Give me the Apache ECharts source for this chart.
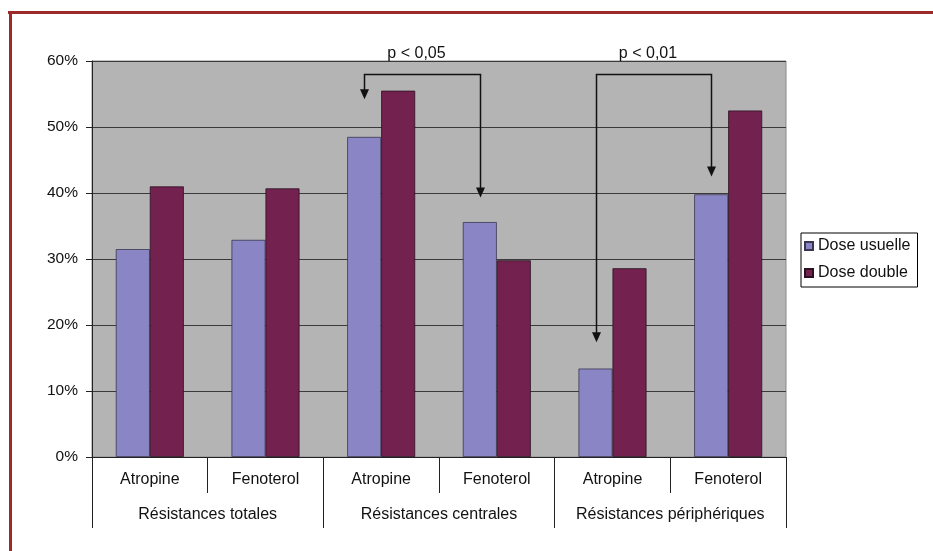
<!DOCTYPE html>
<html>
<head>
<meta charset="utf-8">
<script src="https://cdn.jsdelivr.net/npm/echarts@6/dist/echarts.min.js"></script>
<style>
  html, body { margin: 0; padding: 0; background: #ffffff; }
  #chart { width: 933px; height: 551px; }
</style>
</head>
<body>
<div id="chart"></div>
<script>
// Bronchodilator response by dose, per resistance measure
const categories = ['Atropine', 'Fenoterol', 'Atropine', 'Fenoterol', 'Atropine', 'Fenoterol'];
const groups = ['Résistances totales', 'Résistances centrales', 'Résistances périphériques'];
const seriesNames = ['Dose usuelle', 'Dose double'];
const doseUsuelle = [31.5, 32.9, 48.5, 35.6, 13.4, 39.8];
const doseDouble = [41.0, 40.7, 55.5, 29.8, 28.6, 52.5];

// Significance brackets: between the "Dose usuelle" bars of two categories
const significance = [
  { label: 'p < 0,05', from: 2, to: 3, level: 58, tipFrom: 54.2, tipTo: 39.3 },
  { label: 'p < 0,01', from: 4, to: 5, level: 58, tipFrom: 17.4, tipTo: 42.5 }
];

const FONT = '"Liberation Sans", Arial, Helvetica, sans-serif';
const TEXT = '#111111';
const BAR_W = 34;
const COLORS = ['#8a86c5', '#73214f'];

const chart = echarts.init(document.getElementById('chart'), null, { renderer: 'canvas' });

const option = {
  backgroundColor: '#ffffff',
  animation: false,
  textStyle: { fontFamily: FONT, color: TEXT },
  grid: {
    left: 92, top: 61, width: 694, height: 396,
    show: true, backgroundColor: '#b4b4b4', borderColor: '#8a8a8a', borderWidth: 1
  },
  legend: {
    orient: 'vertical',
    left: 801, top: 233,
    padding: [5, 7, 6, 3],
    itemGap: 11,
    itemWidth: 8, itemHeight: 8,
    icon: 'rect',
    borderColor: '#000', borderWidth: 1,
    textStyle: { fontFamily: FONT, fontSize: 16, color: TEXT },
    data: seriesNames
  },
  xAxis: [
    {
      type: 'category',
      data: categories,
      position: 'bottom',
      axisLine: { show: true, lineStyle: { color: '#222', width: 1 } },
      axisTick: { show: true, interval: 0, length: 36, lineStyle: { color: '#222', width: 1 } },
      axisLabel: { interval: 0, margin: 15, fontFamily: FONT, fontSize: 16, color: TEXT },
      splitLine: { show: false }
    },
    {
      type: 'category',
      data: groups,
      position: 'bottom',
      axisLine: { show: false },
      axisTick: { show: true, interval: 0, length: 71, lineStyle: { color: '#222', width: 1 } },
      axisLabel: { interval: 0, margin: 50, fontFamily: FONT, fontSize: 16, color: TEXT },
      splitLine: { show: false }
    }
  ],
  yAxis: {
    type: 'value',
    min: 0, max: 60, interval: 10,
    axisLine: { show: true, lineStyle: { color: '#222', width: 1 } },
    axisTick: { show: true, length: 6, lineStyle: { color: '#222' } },
    axisLabel: { formatter: '{value}%', margin: 14, fontFamily: FONT, fontSize: 15.5, color: TEXT },
    splitLine: { show: true, lineStyle: { color: '#3a3a3a', width: 1 } }
  },
  series: [
    {
      name: seriesNames[0], type: 'bar', xAxisIndex: 0,
      data: doseUsuelle, barWidth: BAR_W, barGap: '0%',
      itemStyle: { color: COLORS[0], borderColor: '#3a3550', borderWidth: 0.8 }
    },
    {
      name: seriesNames[1], type: 'bar', xAxisIndex: 0,
      data: doseDouble, barWidth: BAR_W, barGap: '0%',
      itemStyle: { color: COLORS[1], borderColor: '#2a1020', borderWidth: 0.8 }
    }
  ]
};

chart.setOption(option);

// Brackets with arrows and frame lines, placed through the axis scales
function buildGraphics() {
  const els = [];
  const xOf = i => chart.convertToPixel({ xAxisIndex: 0 }, i) - BAR_W / 2;
  const yOf = v => chart.convertToPixel({ yAxisIndex: 0 }, v);
  const stroke = { stroke: '#111', lineWidth: 1.5 };

  significance.forEach(s => {
    const x1 = Math.round(xOf(s.from)) + 0.5;
    const x2 = Math.round(xOf(s.to)) + 0.5;
    const yl = Math.round(yOf(s.level)) + 0.5;
    const t1 = yOf(s.tipFrom);
    const t2 = yOf(s.tipTo);
    els.push({
      type: 'polyline', silent: true,
      shape: { points: [[x1, t1 - 8], [x1, yl], [x2, yl], [x2, t2 - 8]] },
      style: Object.assign({ fill: null }, stroke)
    });
    [[x1, t1], [x2, t2]].forEach(([x, t]) => {
      els.push({
        type: 'polygon', silent: true,
        shape: { points: [[x - 4.5, t - 10], [x + 4.5, t - 10], [x, t]] },
        style: { fill: '#111' }
      });
    });
    els.push({
      type: 'text', silent: true,
      style: {
        text: s.label, x: (x1 + x2) / 2 - 6, y: yl - 21,
        textAlign: 'center', textVerticalAlign: 'middle',
        font: '16px ' + FONT, fill: TEXT
      }
    });
  });

  // Frame: top and left rules
  els.push({ type: 'line', silent: true, shape: { x1: 8, y1: 12.5, x2: 933, y2: 12.5 },
             style: { stroke: '#9c2a2b', lineWidth: 3 } });
  els.push({ type: 'line', silent: true, shape: { x1: 10.5, y1: 11, x2: 10.5, y2: 551 },
             style: { stroke: '#9c2a2b', lineWidth: 3 } });
  return els;
}

chart.setOption({ graphic: buildGraphics() });
</script>
</body>
</html>
